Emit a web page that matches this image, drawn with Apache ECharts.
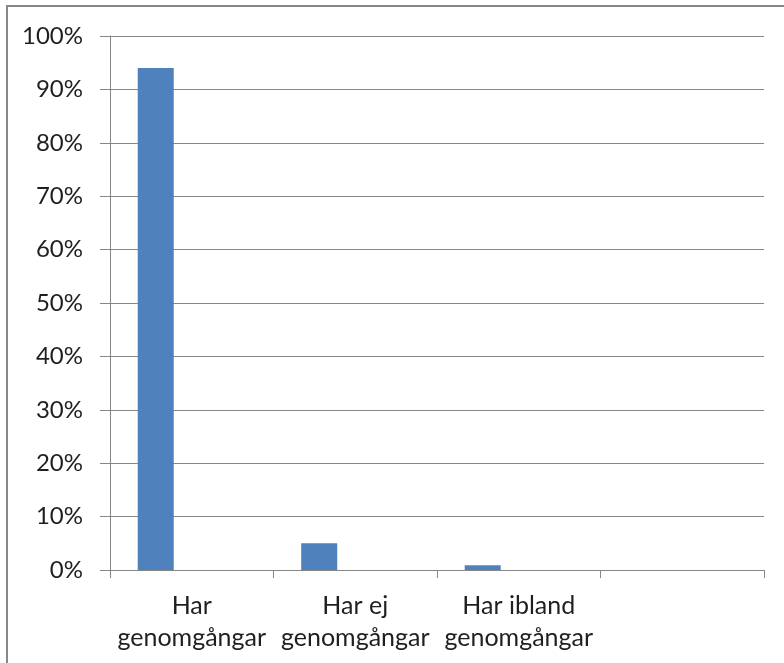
<!DOCTYPE html>
<html>
<head>
<meta charset="utf-8">
<script src="https://cdn.jsdelivr.net/npm/echarts@6/dist/echarts.min.js"></script>
<style>
html,body{margin:0;padding:0;background:#fff;}
#chart{width:784px;height:663px;}
</style>
</head>
<body>
<div id="chart"></div>
<script>
const categories = ['Har\ngenomgångar', 'Har ej\ngenomgångar', 'Har ibland\ngenomgångar', ''];
const seriesValues = [94, 5, 0.9, null];
const emptySeries2 = [null, null, null, null];
const emptySeries3 = [null, null, null, null];
const yTicks = { min: 0, max: 100, interval: 10 };

const font = 'Lato';
const chart = echarts.init(document.getElementById('chart'), null, { renderer: 'canvas' });
const barStyle = { color: '#4F81BD' };
chart.setOption({
  animation: false,
  backgroundColor: '#fff',
  grid: { left: 110, right: 20, top: 36, bottom: 93 },
  graphic: [{
    type: 'rect',
    shape: { x: 7, y: 6, width: 820, height: 720 },
    style: { fill: 'none', stroke: '#878787', lineWidth: 2 },
    silent: true
  }],
  xAxis: {
    type: 'category',
    data: categories,
    axisLine: { lineStyle: { color: '#868686', width: 1 } },
    axisTick: { show: true, length: 8, interval: 0, lineStyle: { color: '#868686' } },
    axisLabel: {
      interval: 0, margin: 20,
      fontFamily: font, fontSize: 25, color: '#1f1f1f', lineHeight: 32
    }
  },
  yAxis: {
    type: 'value',
    min: yTicks.min, max: yTicks.max, interval: yTicks.interval,
    axisLine: { show: true, lineStyle: { color: '#868686', width: 1 } },
    axisTick: { show: true, length: 10, lineStyle: { color: '#868686' } },
    splitLine: { lineStyle: { color: '#868686', width: 1 } },
    axisLabel: {
      formatter: '{value}%', margin: 27,
      fontFamily: font, fontSize: 24, color: '#1f1f1f'
    }
  },
  series: [
    { type: 'bar', data: seriesValues, itemStyle: barStyle, barGap: '0%', barCategoryGap: '33.9%' },
    { type: 'bar', data: emptySeries2, itemStyle: barStyle, barGap: '0%', barCategoryGap: '33.9%' },
    { type: 'bar', data: emptySeries3, itemStyle: barStyle, barGap: '0%', barCategoryGap: '33.9%' }
  ]
});
</script>
</body>
</html>
